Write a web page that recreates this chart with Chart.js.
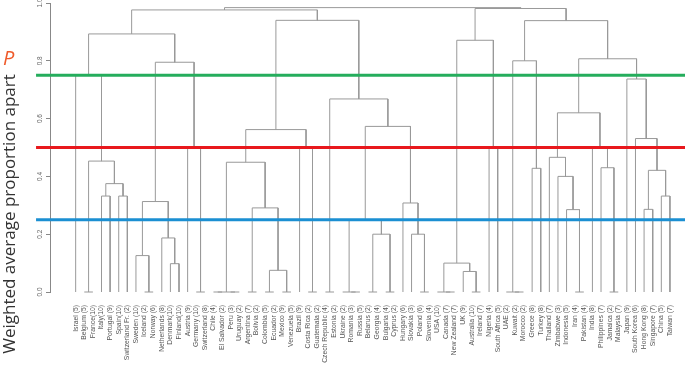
<!DOCTYPE html>
<html><head><meta charset="utf-8">
<script src="https://cdn.jsdelivr.net/npm/chart.js@4.4.1/dist/chart.umd.min.js"></script>
<style>html,body{margin:0;padding:0;background:#fff;}#wrap{width:685px;height:365px;}</style>
</head><body><div id="wrap"><canvas id="c" width="685" height="365"></canvas></div>
<script>
const leafLabels = ["Israel (5)","Belgium (5)","France(10)","Italy(10)","Portugal (9)","Spain(10)","Switzerland Fr. (2)","Sweden (10)","Iceland (2)","Norway (6)","Netherlands (8)","Denmark(10)","Finland(10)","Austria (9)","Germany (10)","Switzerland (8)","Chile (4)","El Salvador (2)","Peru (3)","Uruguay (2)","Argentina (7)","Bolivia (2)","Colombia (5)","Ecuador (2)","Mexico (9)","Venezuela (5)","Brazil (9)","Costa Rica (2)","Guatemala (2)","Czech Republic (4)","Estonia (2)","Ukraine (2)","Romania (3)","Russia (5)","Belarus (2)","Georgia (4)","Bulgaria (4)","Cyprus (2)","Hungary (6)","Slovakia (3)","Poland (6)","Slovenia (4)","USA (10)","Canada (7)","New Zealand (7)","UK (9)","Australia (10)","Ireland (7)","Nigeria (4)","South Africa (5)","UAE (2)","Kuwait (2)","Morocco (2)","Greece (8)","Turkey (8)","Thailand (7)","Zimbabwe (3)","Indonesia (5)","Iran (4)","Pakistan (4)","India (8)","Philippines (7)","Jamaica (2)","Malaysia (7)","Japan (9)","South Korea (6)","Hong Kong (8)","Singapore (7)","China (5)","Taiwan (7)"];
// R-style merge table: negative = leaf (1-based), positive = earlier merge (1-based)
const mergeLeft  = [-2,-4,-6,2,1,-1,-9,-8,-12,-11,8,-15,-14,11,6,-17,-19,16,-21,-23,-25,20,19,18,-28,-27,24,-30,-33,-32,-35,-37,31,30,-41,-40,-39,34,28,27,15,-44,-43,-47,-46,43,-49,46,-52,-51,-54,50,-59,-58,-57,-56,-63,-62,-61,56,-67,-69,61,-66,-65,60,52,48,41];
const mergeRight = [-3,-5,-7,3,4,5,-10,7,-13,9,10,-16,12,13,14,-18,-20,17,-22,-24,-26,21,22,23,-29,25,26,-31,-34,29,-36,-38,32,33,-42,35,36,37,38,39,40,-45,42,-48,44,45,-50,47,-53,49,-55,51,-60,53,54,55,-64,57,58,59,-68,-70,62,63,64,65,66,67,68];
const mergeHeight = [0,0.332,0.332,0.375,0.453,0.75,0,0.126,0.098,0.187,0.313,0,0.5,0.795,0.893,0,0,0,0,0,0,0.075,0.291,0.449,0,0.5,0.562,0,0,0,0,0,0.2,0.25,0,0.2,0.308,0.573,0.668,0.94,0.976,0,0,0,0.071,0.1,0.5,0.871,0,0,0.428,0.8,0,0.285,0.4,0.466,0,0.43,0.5,0.62,0.286,0.332,0.421,0.531,0.737,0.807,0.939,0.981,0.984];
const thresholds = [0.75, 0.5, 0.25];
const thresholdColors = ['#25ad5c', '#e8181d', '#1b8fd2'];
const yTickValues = [0, 0.2, 0.4, 0.6, 0.8, 1.0];
const yTitle = 'Weighted average proportion apart';
const sideLetter = 'P';

const xMin = -1.98, xMax = 71.75, lineStartX = -3.6;
const nodeX = [], nodeH = [];
function nodePos(ref){ return ref < 0 ? {x: -ref, h: 0} : {x: nodeX[ref-1], h: nodeH[ref-1]}; }
const datasets = [];
for (let k = 0; k < mergeHeight.length; k++) {
  const a = nodePos(mergeLeft[k]), b = nodePos(mergeRight[k]), h = mergeHeight[k];
  nodeX[k] = (a.x + b.x) / 2; nodeH[k] = h;
  datasets.push({type:'line', data:[{x:a.x,y:a.h},{x:a.x,y:h},{x:b.x,y:h},{x:b.x,y:b.h}],
    borderColor:'#999999', borderWidth:1, pointRadius:0, tension:0, fill:false, clip:false, order:1});
}
thresholds.forEach((v,i) => {
  datasets.push({type:'line', data:[{x:lineStartX,y:v},{x:xMax,y:v}], borderColor:thresholdColors[i],
    borderWidth:3, pointRadius:0, fill:false, clip:false, order:0});
});

const textPlugin = {
  id:'texts',
  afterDraw(chart){
    const ctx = chart.ctx;
    ctx.save();
    ctx.translate(15, 214);
    ctx.rotate(-Math.PI/2);
    ctx.font = '17px "Open Sans"';
    ctx.fillStyle = '#333';
    ctx.textAlign = 'center';
    ctx.textBaseline = 'alphabetic';
    ctx.fillText(yTitle, 0, 0);
    ctx.restore();
    ctx.save();
    ctx.font = 'italic 20px "Open Sans"';
    ctx.fillStyle = '#ef5a2a';
    ctx.textBaseline = 'alphabetic';
    ctx.fillText(sideLetter, 3, 65);
    ctx.restore();
  }
};

new Chart(document.getElementById('c'), {
  type:'line',
  data:{datasets},
  options:{
    responsive:false, animation:false, parsing:true,
    layout:{padding:{top:3,bottom:0,left:0,right:0}},
    plugins:{legend:{display:false}, tooltip:{enabled:false}},
    scales:{
      x:{type:'linear', min:xMin, max:xMax,
        afterBuildTicks: s => { s.ticks = leafLabels.map((_,i) => ({value:i+1})); },
        ticks:{autoSkip:false, minRotation:90, maxRotation:90, padding:5, color:'#555',
          font:{family:'Liberation Sans', size:6.8},
          callback: v => leafLabels[Math.round(v)-1]},
        grid:{display:false}, border:{display:false},
        afterFit: s => { s.height = 73; s.paddingLeft = 0; s.paddingRight = 0; }
      },
      y:{type:'linear', min:0, max:1,
        afterBuildTicks: s => { s.ticks = yTickValues.map(v => ({value:v})); },
        ticks:{minRotation:90, maxRotation:90, crossAlign:'center', padding:1, color:'#666',
          font:{family:'Liberation Sans', size:6.5},
          callback: v => Number(v).toFixed(1)},
        grid:{drawOnChartArea:false, drawTicks:true, tickLength:4, color:'#888'},
        border:{display:true, color:'#888', width:1},
        afterFit: s => { s.width = 50; s.paddingTop = 0; s.paddingBottom = 0; }
      }
    }
  },
  plugins:[textPlugin]
});
</script></body></html>
